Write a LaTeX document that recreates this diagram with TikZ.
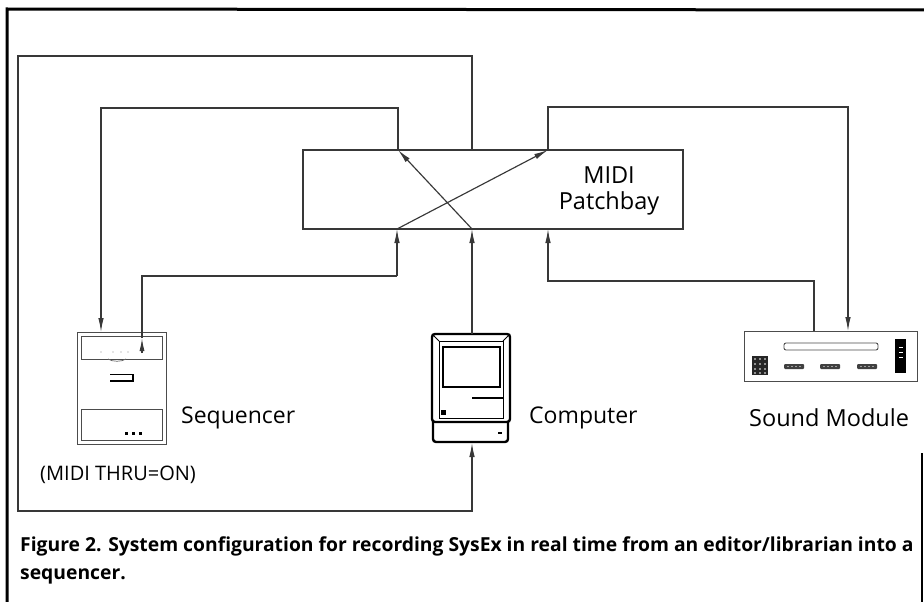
\documentclass[tikz,border=0pt]{standalone}
\usepackage{fontspec}
\setmainfont{Open Sans}
\usetikzlibrary{arrows.meta}
\begin{document}
\begin{tikzpicture}[x=1pt,y=-1pt,
  wire/.style={draw=black!78, line width=1.15pt},
  tip/.style={-{Latex[length=14pt,width=5.5pt]}},
  label/.style={font=\fontsize{23}{27}\selectfont, anchor=west, inner sep=0pt},
  device/.style={draw=black!70, line width=0.9pt},
  heavy/.style={draw=black, line width=2.4pt},
]
\useasboundingbox (0,0) rectangle (924,602);
\fill[white] (0,0) rectangle (924,602);

% page frame
\draw[black, line width=3pt] (7,602) -- (7,9) -- (924,10);
\draw[black, line width=1.5pt] (922,453) -- (922,602);

% patchbay
\node[draw=black!78, line width=1.15pt, minimum width=380pt, minimum height=79pt,
      inner sep=0pt] (pb) at (493,189.5) {};
\node[font=\fontsize{23.5}{26}\selectfont, align=center] (pbtext) at (609,191) {MIDI\\Patchbay};

% patchbay ports
\coordinate (pbTopA) at (398,150);
\coordinate (pbTopB) at (472,150);
\coordinate (pbTopC) at (548,150);
\coordinate (pbBotA) at (397,229);
\coordinate (pbBotB) at (472,229);
\coordinate (pbBotC) at (548,229);

% sequencer
\node[device, minimum width=89pt, minimum height=112pt, inner sep=0pt] (seq) at (121.5,388) {};
\draw[device] (81,336) rectangle (162,359);
\draw[device] (81,409) rectangle (162,440);
\draw[black!60, line width=0.7pt] (108,359) .. controls (112,362) and (122,362) .. (126,359);
\draw[black, line width=0.6pt] (110,374) -- (132,374);
\draw[black, line width=1.8pt] (110,381) -- (133,381) -- (133,374);
\foreach \dx in {126,133,140} \fill[black] (\dx-1.5,431.5) rectangle (\dx+1.5,434.5);
\foreach \dx in {101,113,121,128} \fill[black!45] (\dx,352) circle (0.6);
\coordinate (seqIn) at (101,332);
\coordinate (seqOut) at (142,353);
\coordinate (seqTip) at (142,338);

% computer
\node[inner sep=0pt, minimum width=78pt, minimum height=108pt] (comp) at (471,388) {};
\draw[heavy, rounded corners=3pt] (432,334) rectangle (510,422);
\draw[black, line width=0.8pt] (439,341) rectangle (503,418);
\draw[black, line width=0.8pt] (432,334) -- (439,341) (510,334) -- (503,341);
\draw[black, line width=2.2pt] (443,347) rectangle (500,387);
\draw[black, line width=2.4pt] (472,398) -- (503,398);
\fill[black] (441,410) rectangle (446,415);
\draw[heavy, rounded corners=3pt] (433,422) -- (433,442) -- (508,442) -- (508,422);
\draw[black, line width=1.2pt] (498,433) -- (502,433);
\coordinate (compTop) at (472,334);
\coordinate (compBot) at (472,443);

% sound module
\node[device, minimum width=173pt, minimum height=50pt, inner sep=0pt] (mod) at (830.5,356) {};
\draw[device, rounded corners=2pt] (784,343) rectangle (878,350);
\fill[black!85] (752,356) rectangle (768,375);
\foreach \cx in {755,760,765} \foreach \cy in {359,364,369,373} \fill[white] (\cx,\cy) circle (0.9);
\foreach \bx in {784,820,857} {
  \fill[black!75, rounded corners=1pt] (\bx,364) rectangle (\bx+20,369);
  \foreach \k in {4,8,12,16} \fill[white] (\bx+\k,366.5) circle (0.7);
}
\fill[black] (895,339) rectangle (906,373);
\draw[white, line width=0.6pt] (899,347) -- (903,347) (899,352) -- (903,352) (899,357) -- (903,357);
\coordinate (modOut) at (814,331);
\coordinate (modIn) at (848,331);

% corner points of the wiring
\coordinate (k1) at (398,108);
\coordinate (k2) at (101,108);
\coordinate (k3) at (142,276);
\coordinate (k4) at (397,276);
\coordinate (k5) at (548,107);
\coordinate (k6) at (848,107);
\coordinate (k7) at (814,281);
\coordinate (k8) at (548,281);
\coordinate (k9) at (472,56);
\coordinate (k10) at (18,56);
\coordinate (k11) at (18,511);
\coordinate (k12) at (472,511);

% computer out -> patchbay -> sequencer in
\draw[wire, tip] (compTop) -- (pbBotB);
\draw[wire, tip] (pbBotB) -- (pbTopA);
\draw[wire, tip] (pbTopA) -- (k1) -- (k2) -- (seqIn);

% sequencer out -> patchbay -> sound module in
\draw[wire, -{Latex[length=13pt,width=5pt]}] (seqOut) -- (seqTip);
\draw[wire] (seqTip) -- (k3) -- (k4);
\draw[wire, tip] (k4) -- (pbBotA);
\draw[wire, tip] (pbBotA) -- (pbTopC);
\draw[wire, tip] (pbTopC) -- (k5) -- (k6) -- (modIn);

% sound module out -> patchbay
\draw[wire, tip] (modOut) -- (k7) -- (k8) -- (pbBotC);

% patchbay out -> computer in
\draw[wire, tip] (pbTopB) -- (k9) -- (k10) -- (k11) -- (k12) -- (compBot);

% labels
\node[label] (seqlabel) at (181,418) {Sequencer};
\node[label] (complabel) at (529,418) {Computer};
\node[label, font=\fontsize{23.5}{27}\selectfont] (modlabel) at (749,418) {Sound Module};
\node[font=\fontsize{20}{24}\selectfont, anchor=west, inner sep=0pt] (thru) at (40,475) {(MIDI THRU=ON)};

% caption
\node[font=\fontsize{19.3}{28}\selectfont\bfseries, anchor=north west, align=left, inner sep=0pt] (caption) at (20,536.5)
  {Figure 2. System configuration for recording SysEx in real time from an editor/librarian into a\\sequencer.};
\end{tikzpicture}
\end{document}
